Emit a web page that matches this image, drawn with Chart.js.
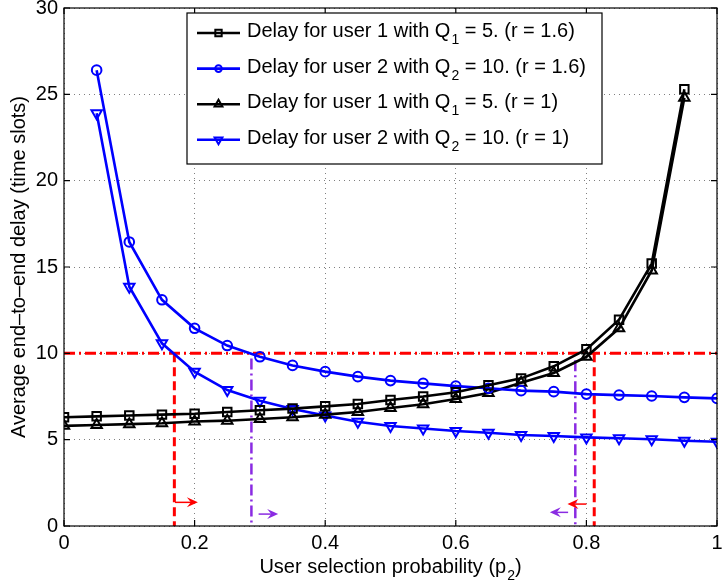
<!DOCTYPE html>
<html><head><meta charset="utf-8">
<script src="https://cdn.jsdelivr.net/npm/chart.js@4.4.0/dist/chart.umd.min.js"></script>
<style>html,body{margin:0;padding:0;background:#fff;}</style>
</head><body>
<canvas id="c" width="725" height="584"></canvas>
<script>
// ---- data ----
const pUser1 = [0,0.05,0.1,0.15,0.2,0.25,0.3,0.35,0.4,0.45,0.5,0.55,0.6,0.65,0.7,0.75,0.8,0.85,0.9,0.95];
const pUser2 = [0.05,0.1,0.15,0.2,0.25,0.3,0.35,0.4,0.45,0.5,0.55,0.6,0.65,0.7,0.75,0.8,0.85,0.9,0.95,1.0];
const delayU1r16 = [6.3,6.35,6.4,6.45,6.5,6.6,6.7,6.8,6.93,7.07,7.3,7.5,7.75,8.15,8.55,9.25,10.23,11.95,15.2,25.3];
const delayU2r16 = [26.4,16.45,13.1,11.45,10.45,9.8,9.3,8.94,8.65,8.42,8.26,8.1,7.98,7.84,7.78,7.64,7.58,7.53,7.45,7.39];
const delayU1r1  = [5.8,5.85,5.9,5.95,6.05,6.1,6.2,6.3,6.45,6.6,6.83,7.05,7.35,7.7,8.3,8.86,9.8,11.45,14.8,24.8];
const delayU2r1  = [23.9,13.86,10.58,8.94,7.87,7.26,6.78,6.4,6.04,5.79,5.65,5.5,5.4,5.27,5.21,5.13,5.08,5.02,4.94,4.88];
const seriesLabels = [
  ['Delay for user 1 with Q','1',' = 5. (r = 1.6)'],
  ['Delay for user 2 with Q','2',' = 10. (r = 1.6)'],
  ['Delay for user 1 with Q','1',' = 5. (r = 1)'],
  ['Delay for user 2 with Q','2',' = 10. (r = 1)']
];
const delayThreshold = 10;
const pRedLines = [0.169, 0.812];
const pPurpleLines = [0.287, 0.783];
const purpleTop = [9.7, 9.6];
// arrows: [xFrom, xTo, y]
const redArrows = [[0.17,0.205,1.37],[0.80,0.771,1.27]];
const purpleArrows = [[0.298,0.328,0.69],[0.772,0.744,0.79]];
const xTicks = [0,0.2,0.4,0.6,0.8,1];
const yTicks = [0,5,10,15,20,25,30];
const xTitle = ['User selection probability (p','2',')'];
const yTitle = 'Average end\u2013to\u2013end delay (time slots)';

const FONT = '"Liberation Sans", Arial, Helvetica, sans-serif';
const FS = 20;
const BLUE = '#0000ff', RED = '#ff0000', PURPLE = '#8a2be2';
function pts(xs, ys){ return xs.map((x,i)=>({x:x, y:ys[i]})); }

const curveStyle = [
  {color:'#000', style:'rect', r:6, rot:0},
  {color:BLUE, style:'circle', r:4.8, rot:0},
  {color:'#000', style:'triangle', r:6, rot:0},
  {color:BLUE, style:'triangle', r:6, rot:180}
];
const curveData = [pts(pUser1,delayU1r16), pts(pUser2,delayU2r16), pts(pUser1,delayU1r1), pts(pUser2,delayU2r1)];

const datasets = curveData.map((d,i)=>({
  data:d, borderColor:curveStyle[i].color, borderWidth:2.6,
  pointStyle:curveStyle[i].style, pointRadius:curveStyle[i].r, pointRotation:curveStyle[i].rot,
  pointBorderColor:curveStyle[i].color, pointBackgroundColor:'rgba(0,0,0,0)', pointBorderWidth:2,
  tension:0, fill:false
}));
datasets.push({data:[{x:0,y:delayThreshold},{x:1,y:delayThreshold}], borderColor:RED, borderWidth:3, borderDash:[11,4,2,4], pointRadius:0, fill:false});
pRedLines.forEach(p=>datasets.push({data:[{x:p,y:delayThreshold},{x:p,y:0}], borderColor:RED, borderWidth:3, borderDash:[9,5], pointRadius:0, fill:false}));
pPurpleLines.forEach((p,i)=>datasets.push({data:[{x:p,y:purpleTop[i]},{x:p,y:0}], borderColor:PURPLE, borderWidth:2.5, borderDash:[11,4,2,4], pointRadius:0, fill:false}));

function drawArrow(ctx, x1, x2, y, color){
  const dir = Math.sign(x2-x1);
  ctx.save();
  ctx.strokeStyle = color; ctx.fillStyle = color; ctx.lineWidth = 1.5; ctx.setLineDash([]);
  ctx.beginPath(); ctx.moveTo(x1,y); ctx.lineTo(x2 - dir*4,y); ctx.stroke();
  ctx.beginPath();
  ctx.moveTo(x2,y);
  ctx.lineTo(x2 - dir*11, y-5);
  ctx.lineTo(x2 - dir*7, y);
  ctx.lineTo(x2 - dir*11, y+5);
  ctx.closePath(); ctx.fill();
  ctx.restore();
}

function subText(ctx, parts, x, y, size){
  ctx.font = size+'px '+FONT;
  ctx.fillText(parts[0], x, y);
  let w = ctx.measureText(parts[0]).width;
  ctx.font = Math.round(size*0.72)+'px '+FONT;
  ctx.fillText(parts[1], x+w+1, y+7);
  w += ctx.measureText(parts[1]).width + 1;
  ctx.font = size+'px '+FONT;
  ctx.fillText(parts[2], x+w, y);
  return w + ctx.measureText(parts[2]).width;
}
function subWidth(ctx, parts, size){
  ctx.font = size+'px '+FONT;
  let w = ctx.measureText(parts[0]).width + ctx.measureText(parts[2]).width;
  ctx.font = Math.round(size*0.72)+'px '+FONT;
  return w + ctx.measureText(parts[1]).width + 1;
}

const decor = {
  id:'decor',
  afterDatasetsDraw(chart){
    const ctx = chart.ctx, xs = chart.scales.x, ys = chart.scales.y, a = chart.chartArea;
    redArrows.forEach(r=>drawArrow(ctx, xs.getPixelForValue(r[0]), xs.getPixelForValue(r[1]), ys.getPixelForValue(r[2]), RED));
    purpleArrows.forEach(r=>drawArrow(ctx, xs.getPixelForValue(r[0]), xs.getPixelForValue(r[1]), ys.getPixelForValue(r[2]), PURPLE));
    // box and ticks
    ctx.save();
    ctx.strokeStyle = '#000'; ctx.lineWidth = 1.2; ctx.setLineDash([]);
    ctx.strokeRect(a.left, a.top, a.right-a.left, a.bottom-a.top);
    ctx.beginPath();
    xTicks.forEach(t=>{const px = xs.getPixelForValue(t); ctx.moveTo(px,a.bottom); ctx.lineTo(px,a.bottom-6); ctx.moveTo(px,a.top); ctx.lineTo(px,a.top+6);});
    yTicks.forEach(t=>{const py = ys.getPixelForValue(t); ctx.moveTo(a.left,py); ctx.lineTo(a.left+6,py); ctx.moveTo(a.right,py); ctx.lineTo(a.right-6,py);});
    ctx.stroke();
    // x title
    ctx.fillStyle = '#000'; ctx.textBaseline = 'alphabetic'; ctx.textAlign = 'left';
    const tw = subWidth(ctx, xTitle, FS);
    subText(ctx, xTitle, (a.left+a.right)/2 - tw/2, 573, FS);
    // y title
    ctx.save();
    ctx.translate(25, (a.top+a.bottom)/2); ctx.rotate(-Math.PI/2);
    ctx.font = FS+'px '+FONT; ctx.textAlign='center';
    ctx.fillText(yTitle, 0, 0);
    ctx.restore();
    // legend
    const L = 187, T = 13, R = 602, B = 164;
    ctx.fillStyle = '#fff'; ctx.fillRect(L,T,R-L,B-T);
    ctx.strokeStyle = '#000'; ctx.lineWidth = 1.2; ctx.strokeRect(L,T,R-L,B-T);
    const rows = [33,68.6,104.2,139.8];
    rows.forEach((ry,i)=>{
      const st = curveStyle[i];
      ctx.strokeStyle = st.color; ctx.lineWidth = 2.6;
      ctx.beginPath(); ctx.moveTo(197,ry); ctx.lineTo(240,ry); ctx.stroke();
      ctx.lineWidth = 2; ctx.fillStyle = 'rgba(0,0,0,0)';
      Chart.helpers.drawPoint(ctx, {pointStyle:st.style, radius:st.r-1.5, rotation:st.rot, borderWidth:2}, 218.5, ry);
      ctx.fillStyle = '#000'; ctx.textAlign = 'left';
      subText(ctx, seriesLabels[i], 247, ry+4, FS);
    });
    ctx.restore();
  }
};

new Chart(document.getElementById('c'), {
  type:'line',
  data:{datasets:datasets},
  plugins:[decor],
  options:{
    responsive:false, animation:false, devicePixelRatio:1,
    layout:{padding:{top:8,right:6,left:0,bottom:0}},
    plugins:{legend:{display:false}, tooltip:{enabled:false}},
    elements:{line:{borderCapStyle:'butt'}},
    scales:{
      x:{type:'linear', min:0, max:1,
        afterBuildTicks(s){ s.ticks = xTicks.map(v=>({value:v})); },
        afterFit(s){ s.height = 58; s.paddingLeft = 0; s.paddingRight = 0; },
        ticks:{color:'#000', font:{family:FONT, size:FS}, padding:5, maxRotation:0,
          callback:(v)=>String(v)},
        grid:{color:'rgba(0,0,0,0.5)', lineWidth:1, drawTicks:false},
        border:{display:false, dash:[1,4]}
      },
      y:{type:'linear', min:0, max:30,
        afterBuildTicks(s){ s.ticks = yTicks.map(v=>({value:v})); },
        afterFit(s){ s.width = 64; s.paddingTop = 0; s.paddingBottom = 0; },
        ticks:{color:'#000', font:{family:FONT, size:FS}, padding:6, callback:(v)=>String(v)},
        grid:{color:'rgba(0,0,0,0.5)', lineWidth:1, drawTicks:false},
        border:{display:false, dash:[1,4]}
      }
    }
  }
});
</script>
</body></html>
